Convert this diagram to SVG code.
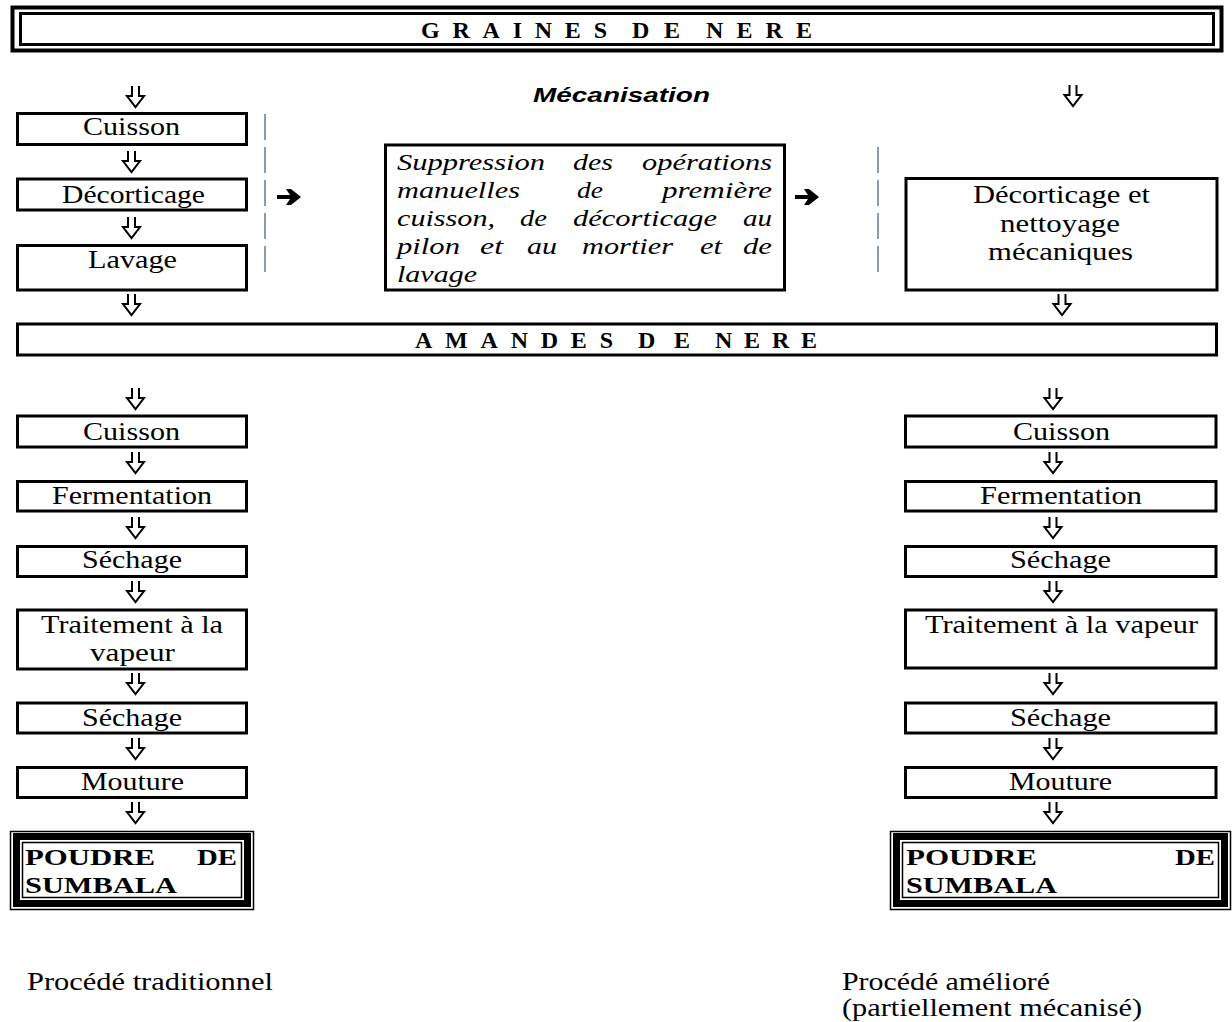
<svg xmlns="http://www.w3.org/2000/svg" xmlns:xlink="http://www.w3.org/1999/xlink" width="1232" height="1022" viewBox="0 0 1232 1022">
<style>
.box{fill:#fff;stroke:#000;stroke-width:3}
.t{font-family:"Liberation Serif","Times New Roman",serif;font-size:25px;fill:#000}
.ti{font-family:"Liberation Serif","Times New Roman",serif;font-size:24px;font-style:italic;fill:#000}
.tb{font-family:"Liberation Serif","Times New Roman",serif;font-weight:bold;fill:#000}
.mec{font-family:"Liberation Sans",Arial,sans-serif;font-size:21px;font-weight:bold;font-style:italic;fill:#000}
.dash{stroke:#5d6f98;stroke-width:1.4;stroke-dasharray:26 7;fill:none}
.dn{fill:none;stroke:#000;stroke-width:2;stroke-linejoin:miter}
.rt{fill:#000}
</style>
<defs>
<path id="dn" class="dn" d="M-3.5,0 V10 H-8.5 L0,21 L8.5,10 H3.5 V0"/>
<path id="rt" class="rt" d="M0,-2 H13 L9,-8 H14 L24,0 L14,8 H9 L13,2 H0 Z"/>
</defs>

<g id="graines">
<rect x="12.5" y="7.5" width="1209" height="43" fill="none" stroke="#000" stroke-width="4"/>
<rect x="20.5" y="13.5" width="1193" height="31" fill="#fff" stroke="#000" stroke-width="3"/>
<text class="tb" font-size="24" y="38"><tspan x="421" textLength="186" lengthAdjust="spacing">GRAINES</tspan></text>
<text class="tb" font-size="24" y="38"><tspan x="632" textLength="48" lengthAdjust="spacing">DE</tspan></text>
<text class="tb" font-size="24" y="38"><tspan x="706" textLength="106" lengthAdjust="spacing">NERE</tspan></text>
</g>

<g id="mecanisation">
<text class="mec" x="533" y="102" textLength="177" lengthAdjust="spacingAndGlyphs">Mécanisation</text>
</g>

<g id="cuisson1">
<rect class="box" x="17.5" y="113.5" width="229" height="31"/>
<text class="t" x="83" y="135" textLength="97" lengthAdjust="spacingAndGlyphs">Cuisson</text>
</g>
<g id="decorticage1">
<rect class="box" x="17.5" y="179" width="229" height="31"/>
<text class="t" x="62" y="203" textLength="143" lengthAdjust="spacingAndGlyphs">Décorticage</text>
</g>
<g id="lavage1">
<rect class="box" x="17.5" y="245.5" width="229" height="44.5"/>
<text class="t" x="88" y="268" textLength="89" lengthAdjust="spacingAndGlyphs">Lavage</text>
</g>

<g id="suppression">
<rect class="box" x="385.5" y="145" width="399" height="145"/>
<text class="ti" y="170">
<tspan x="397" textLength="148" lengthAdjust="spacingAndGlyphs">Suppression</tspan>
<tspan x="573" textLength="40" lengthAdjust="spacingAndGlyphs">des</tspan>
<tspan x="642" textLength="130" lengthAdjust="spacingAndGlyphs">opérations</tspan>
</text>
<text class="ti" y="198">
<tspan x="397" textLength="123" lengthAdjust="spacingAndGlyphs">manuelles</tspan>
<tspan x="577" textLength="26" lengthAdjust="spacingAndGlyphs">de</tspan>
<tspan x="662" textLength="110" lengthAdjust="spacingAndGlyphs">première</tspan>
</text>
<text class="ti" y="226">
<tspan x="397" textLength="98" lengthAdjust="spacingAndGlyphs">cuisson,</tspan>
<tspan x="520" textLength="27" lengthAdjust="spacingAndGlyphs">de</tspan>
<tspan x="573" textLength="144" lengthAdjust="spacingAndGlyphs">décorticage</tspan>
<tspan x="743" textLength="29" lengthAdjust="spacingAndGlyphs">au</tspan>
</text>
<text class="ti" y="254">
<tspan x="397" textLength="63" lengthAdjust="spacingAndGlyphs">pilon</tspan>
<tspan x="480" textLength="23" lengthAdjust="spacingAndGlyphs">et</tspan>
<tspan x="527" textLength="30" lengthAdjust="spacingAndGlyphs">au</tspan>
<tspan x="582" textLength="91" lengthAdjust="spacingAndGlyphs">mortier</tspan>
<tspan x="700" textLength="22" lengthAdjust="spacingAndGlyphs">et</tspan>
<tspan x="743" textLength="29" lengthAdjust="spacingAndGlyphs">de</tspan>
</text>
<text class="ti" y="282"><tspan x="397" textLength="80" lengthAdjust="spacingAndGlyphs">lavage</tspan></text>
</g>

<g id="decorticage-meca">
<rect class="box" x="906" y="178.5" width="311" height="111.5"/>
<text class="t" x="973" y="203" textLength="177" lengthAdjust="spacingAndGlyphs">Décorticage et</text>
<text class="t" x="1000" y="232" textLength="120" lengthAdjust="spacingAndGlyphs">nettoyage</text>
<text class="t" x="988" y="260" textLength="145" lengthAdjust="spacingAndGlyphs">mécaniques</text>
</g>

<g id="amandes">
<rect class="box" x="17.5" y="324" width="1199" height="31"/>
<text class="tb" font-size="24" y="348"><tspan x="415" textLength="198" lengthAdjust="spacing">AMANDES</tspan></text>
<text class="tb" font-size="24" y="348"><tspan x="638" textLength="52" lengthAdjust="spacing">DE</tspan></text>
<text class="tb" font-size="24" y="348"><tspan x="715" textLength="102" lengthAdjust="spacing">NERE</tspan></text>
</g>

<g id="l-cuisson">
<rect class="box" x="17.5" y="416" width="229" height="31"/>
<text class="t" x="83" y="440" textLength="97" lengthAdjust="spacingAndGlyphs">Cuisson</text>
</g>
<g id="l-fermentation">
<rect class="box" x="17.5" y="481.5" width="229" height="29.5"/>
<text class="t" x="52" y="504" textLength="160" lengthAdjust="spacingAndGlyphs">Fermentation</text>
</g>
<g id="l-sechage1">
<rect class="box" x="17.5" y="546.5" width="229" height="30"/>
<text class="t" x="82" y="568" textLength="100" lengthAdjust="spacingAndGlyphs">Séchage</text>
</g>
<g id="l-traitement">
<rect class="box" x="17.5" y="610" width="229" height="59"/>
<text class="t" x="41" y="633" textLength="182" lengthAdjust="spacingAndGlyphs">Traitement à la</text>
<text class="t" x="90" y="661" textLength="85" lengthAdjust="spacingAndGlyphs">vapeur</text>
</g>
<g id="l-sechage2">
<rect class="box" x="17.5" y="703" width="229" height="30"/>
<text class="t" x="82" y="726" textLength="100" lengthAdjust="spacingAndGlyphs">Séchage</text>
</g>
<g id="l-mouture">
<rect class="box" x="17.5" y="767.5" width="229" height="30"/>
<text class="t" x="81" y="790" textLength="103" lengthAdjust="spacingAndGlyphs">Mouture</text>
</g>
<g id="l-poudre">
<rect x="10.5" y="831.5" width="243" height="78" fill="none" stroke="#000" stroke-width="1.5"/>
<rect x="16.5" y="836.5" width="231" height="67" fill="#fff" stroke="#000" stroke-width="7"/>
<rect x="22.5" y="842.5" width="219" height="55" fill="#fff" stroke="#000" stroke-width="1.5"/>
<text class="tb" font-size="24" x="25" y="865" textLength="130" lengthAdjust="spacingAndGlyphs">POUDRE</text>
<text class="tb" font-size="24" x="197" y="865" textLength="40" lengthAdjust="spacingAndGlyphs">DE</text>
<text class="tb" font-size="24" x="25" y="893" textLength="152" lengthAdjust="spacingAndGlyphs">SUMBALA</text>
</g>

<g id="r-cuisson">
<rect class="box" x="905.5" y="416" width="310.5" height="31"/>
<text class="t" x="1013" y="440" textLength="97" lengthAdjust="spacingAndGlyphs">Cuisson</text>
</g>
<g id="r-fermentation">
<rect class="box" x="905.5" y="481.5" width="310.5" height="29.5"/>
<text class="t" x="980" y="504" textLength="162" lengthAdjust="spacingAndGlyphs">Fermentation</text>
</g>
<g id="r-sechage1">
<rect class="box" x="905.5" y="546.5" width="310.5" height="30"/>
<text class="t" x="1010" y="568" textLength="101" lengthAdjust="spacingAndGlyphs">Séchage</text>
</g>
<g id="r-traitement">
<rect class="box" x="905.5" y="610" width="310.5" height="58"/>
<text class="t" x="925" y="633" textLength="273" lengthAdjust="spacingAndGlyphs">Traitement à la vapeur</text>
</g>
<g id="r-sechage2">
<rect class="box" x="905.5" y="703" width="310.5" height="30"/>
<text class="t" x="1010" y="726" textLength="101" lengthAdjust="spacingAndGlyphs">Séchage</text>
</g>
<g id="r-mouture">
<rect class="box" x="905.5" y="767.5" width="310.5" height="30"/>
<text class="t" x="1009" y="790" textLength="103" lengthAdjust="spacingAndGlyphs">Mouture</text>
</g>
<g id="r-poudre">
<rect x="890.5" y="831.5" width="340" height="78" fill="none" stroke="#000" stroke-width="1.5"/>
<rect x="896.5" y="836.5" width="328" height="67" fill="#fff" stroke="#000" stroke-width="7"/>
<rect x="902.5" y="842.5" width="316" height="55" fill="#fff" stroke="#000" stroke-width="1.5"/>
<text class="tb" font-size="24" x="906" y="865" textLength="131" lengthAdjust="spacingAndGlyphs">POUDRE</text>
<text class="tb" font-size="24" x="1175" y="865" textLength="40" lengthAdjust="spacingAndGlyphs">DE</text>
<text class="tb" font-size="24" x="906" y="893" textLength="151" lengthAdjust="spacingAndGlyphs">SUMBALA</text>
</g>

<g id="label-trad">
<text class="t" x="27" y="990" textLength="246" lengthAdjust="spacingAndGlyphs">Procédé traditionnel</text>
</g>
<g id="label-ameliore">
<text class="t" x="842" y="990" textLength="208" lengthAdjust="spacingAndGlyphs">Procédé amélioré</text>
<text class="t" x="842" y="1016" textLength="300" lengthAdjust="spacingAndGlyphs">(partiellement mécanisé)</text>
</g>

<g id="connectors">
<line class="dash" x1="265" y1="114" x2="265" y2="273"/>
<line class="dash" x1="878" y1="147" x2="878" y2="273"/>
<use xlink:href="#rt" x="277" y="197"/>
<use xlink:href="#rt" x="795" y="197"/>
<use xlink:href="#dn" x="135.5" y="86"/>
<use xlink:href="#dn" x="131.5" y="151"/>
<use xlink:href="#dn" x="131.5" y="217"/>
<use xlink:href="#dn" x="131.5" y="294"/>
<use xlink:href="#dn" x="1073" y="85"/>
<use xlink:href="#dn" x="1062" y="294"/>
<use xlink:href="#dn" x="135.5" y="388"/>
<use xlink:href="#dn" x="135.5" y="452"/>
<use xlink:href="#dn" x="135.5" y="517"/>
<use xlink:href="#dn" x="135.5" y="581"/>
<use xlink:href="#dn" x="135.5" y="673"/>
<use xlink:href="#dn" x="135.5" y="738"/>
<use xlink:href="#dn" x="135.5" y="802"/>
<use xlink:href="#dn" x="1053" y="388"/>
<use xlink:href="#dn" x="1053" y="452"/>
<use xlink:href="#dn" x="1053" y="517"/>
<use xlink:href="#dn" x="1053" y="581"/>
<use xlink:href="#dn" x="1053" y="673"/>
<use xlink:href="#dn" x="1053" y="738"/>
<use xlink:href="#dn" x="1053" y="802"/>
</g>
</svg>
